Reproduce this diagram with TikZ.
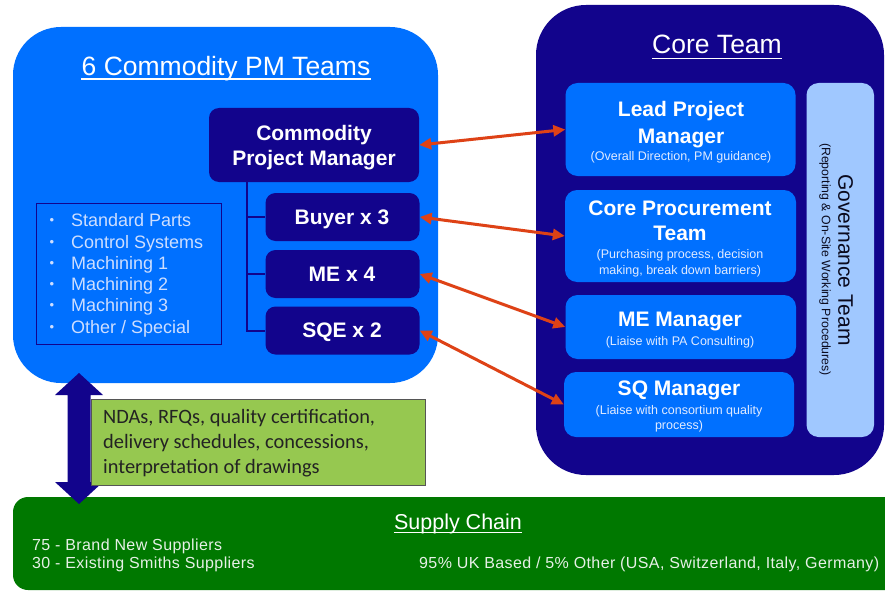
\documentclass[tikz,border=0pt]{standalone}
\usepackage{fontspec}
\setmainfont{Liberation Sans}
\newfontfamily\calibri{Carlito}
\newfontfamily\scfont[LetterSpace=2.5]{Liberation Sans}
\usetikzlibrary{arrows.meta,calc}
\definecolor{navy}{RGB}{18,4,140}
\definecolor{pmblue}{RGB}{0,112,255}
\definecolor{govblue}{RGB}{160,200,255}
\definecolor{scgreen}{RGB}{0,120,0}
\definecolor{notegreen}{RGB}{150,200,80}
\definecolor{arrred}{RGB}{222,66,22}
\definecolor{listtxt}{RGB}{205,222,255}
\definecolor{subtxt}{RGB}{225,235,255}
\newcommand{\fs}[1]{\fontsize{#1}{#1}\selectfont}
\tikzset{
  panel/.style={inner sep=0, rounded corners=#1},
  darkbox/.style={fill=navy, inner sep=0, rounded corners=10},
  corebox/.style={fill=pmblue, inner sep=0, rounded corners=12},
  txt/.style={inner sep=0, anchor=base, text=white},
  lbl/.style={txt, font=\bfseries\fs{21}},
  sub/.style={txt, text=subtxt, font=\fs{12.5}},
  title/.style={txt, font=\fs{26.5}},
  uline/.style={white, line width=1.3pt},
  link/.style={draw=arrred, line width=3pt,
    {Triangle[length=12pt,width=11pt]}-{Triangle[length=12pt,width=11pt]}},
  treeline/.style={draw=navy, line width=2pt},
  listitem/.style={inner sep=0, anchor=base west, text=listtxt, font=\fs{18}},
  bulletmark/.style={inner sep=0, anchor=base, text=listtxt, font=\fs{13}},
  notetxt/.style={inner sep=0, anchor=base west, text={rgb,255:red,35;green,35;blue,35}, font=\calibri\fs{20.4}},
  sctxt/.style={inner sep=0, anchor=base west, text={rgb,255:red,230;green,240;blue,230}, font=\scfont\fs{16}}
}
\begin{document}
\begin{tikzpicture}[x=1pt,y=-1pt]
\useasboundingbox (0,0) rectangle (885,591);
\clip (0,0) rectangle (885,591);
\fill[white] (0,0) rectangle (885,591);

% panels
\node[panel=48, fill=pmblue, minimum width=425, minimum height=356] (pm) at (225.5,205) {};
\node[panel=50, fill=navy, minimum width=348, minimum height=470] (core) at (710,240) {};

% titles
\node[title] (t1) at (226,76) {6 Commodity PM Teams};
\draw[uline] ($(t1.base west)+(0,3)$) -- ($(t1.base east)+(0,3)$);
\node[title] (t2) at (717,53.3) {Core Team};
\draw[uline] ($(t2.base west)+(0,5)$) -- ($(t2.base east)+(0,5)$);

% commodity team boxes
\node[darkbox, minimum width=210, minimum height=74] (cpm) at (314,145) {};
\node[darkbox, minimum width=154, minimum height=48] (buyer) at (342.5,217) {};
\node[darkbox, minimum width=154, minimum height=48] (me) at (342.5,274) {};
\node[darkbox, minimum width=154, minimum height=48] (sqe) at (342.5,330.5) {};
\node[lbl] (cpm1) at (314,140) {Commodity};
\node[lbl] (cpm2) at (314,165.7) {Project Manager};
\node[lbl] (buyert) at (342,224.7) {Buyer x 3};
\node[lbl] (met) at (342,281.7) {ME x 4};
\node[lbl] (sqet) at (342,337.7) {SQE x 2};

% tree
\coordinate (tr) at (246.7,182);
\draw[treeline] (tr) |- (sqe.west);
\draw[treeline] (tr |- buyer.west) -- (buyer.west);
\draw[treeline] (tr |- me.west) -- (me.west);

% list
\node[draw=navy, line width=1pt, inner sep=0, minimum width=185.5, minimum height=141] (lst) at (128.75,273.5) {};
\foreach \t [count=\i] in {Standard Parts, Control Systems, Machining 1, Machining 2, Machining 3, Other / Special} {
  \node[listitem] (li\i) at (71,205.4+21.3*\i) {\t};
  \node[bulletmark] (bu\i) at (52,203.4+21.3*\i) {•};
}

% core team boxes
\node[corebox, minimum width=230, minimum height=93] (lpm) at (680.5,129.5) {};
\node[corebox, minimum width=231, minimum height=92] (cpt) at (680.5,236) {};
\node[corebox, minimum width=230.5, minimum height=64] (mem) at (680.75,327) {};
\node[corebox, minimum width=230, minimum height=65] (sqm) at (679,404.5) {};
\node[corebox, fill=govblue, minimum width=67.5, minimum height=354] (gov) at (840.25,260) {};

\node[lbl] (lpm1) at (681,116.7) {Lead Project};
\node[lbl] (lpm2) at (681,143.3) {Manager};
\node[sub] (lpm3) at (681,160.7) {(Overall Direction, PM guidance)};
\node[lbl] (cpt1) at (680,215) {Core Procurement};
\node[lbl] (cpt2) at (680,240) {Team};
\node[sub] (cpt3) at (680,258.3) {(Purchasing process, decision};
\node[sub] (cpt4) at (680,274) {making, break down barriers)};
\node[lbl] (mem1) at (680,326.7) {ME Manager};
\node[sub] (mem2) at (680,345) {(Liaise with PA Consulting)};
\node[lbl] (sqm1) at (679,395.7) {SQ Manager};
\node[sub] (sqm2) at (679,414) {(Liaise with consortium quality};
\node[sub] (sqm3) at (679,429.3) {process)};
\node[inner sep=0, rotate=-90, text={rgb,255:red,10;green,10;blue,30}, font=\fs{21}] (govt) at (845.5,260) {Governance Team};
\node[inner sep=0, rotate=-90, text={rgb,255:red,10;green,10;blue,30}, font=\fs{12.3}] (govs) at (825,259.5) {(Reporting \& On-Site Working Procedures)};

% links
\draw[link] (cpm.east) -- (lpm.west);
\draw[link] (buyer.east) -- (cpt.west);
\draw[link] (me.east) -- (mem.west);
\draw[link] (sqe.east) -- (sqm.west);

% supply chain
\node[panel=15, fill=scgreen, minimum width=887, minimum height=93] (sc) at (456.5,543.5) {};
\node[txt, font=\fs{21.5}] (sct) at (458,529.3) {Supply Chain};
\draw[uline] ($(sct.base west)+(0,3.5)$) -- ($(sct.base east)+(0,3.5)$);
\node[sctxt] (sc1) at (32,550) {75 - Brand New Suppliers};
\node[sctxt] (sc2) at (32,568.3) {30 - Existing Smiths Suppliers};
\node[sctxt] (sc3) at (419,568.3) {95\% UK Based / 5\% Other (USA, Switzerland, Italy, Germany)};

% block double arrow
\coordinate (ta) at (79,373);
\coordinate (tb) at (79,504);
\fill[navy] (ta) -- ++(24,22) -- ++(-12.5,0) -- ++(0,87) -- ++(12.5,0) -- (tb)
  -- ++(-24,-22) -- ++(12.5,0) -- ++(0,-87) -- ++(-12.5,0) -- cycle;

% note
\node[draw={rgb,255:red,85;green,85;blue,85}, line width=1pt, fill=notegreen, inner sep=0, minimum width=334, minimum height=86] (note) at (258,442) {};
\node[notetxt] (n1) at (103,423) {NDAs, RFQs, quality certification,};
\node[notetxt] (n2) at (103,448) {delivery schedules, concessions,};
\node[notetxt] (n3) at (103,473) {interpretation of drawings};
\end{tikzpicture}
\end{document}
